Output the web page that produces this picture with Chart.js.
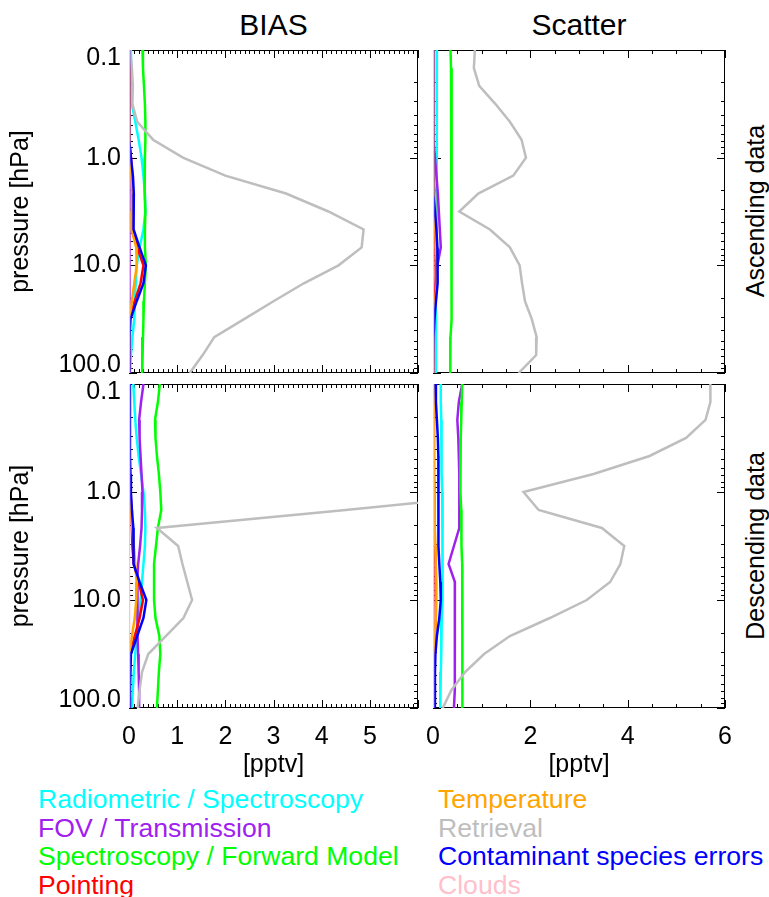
<!DOCTYPE html>
<html lang="en">
<head>
  <meta charset="UTF-8">
  <title>BIAS / Scatter profiles</title>
  <script src="https://cdn.jsdelivr.net/npm/chart.js@4.4.1/dist/chart.umd.min.js"></script>
  <style>
    body { margin: 0; background: #fff; }
    #page { position: relative; width: 769px; height: 897px; overflow: hidden;
            font-family: 'Liberation Sans', Arial, sans-serif; color: #000; }
    .box { position: absolute; }
    .head { position: absolute; top: 6px; font-size: 30px; line-height: 38px; text-align: center; }
    .side { position: absolute; font-size: 25px; white-space: nowrap;
            transform: translate(-50%, -50%) rotate(-90deg); }
    .legend { position: absolute; top: 785px; font-size: 26.6px; line-height: 28.5px; white-space: nowrap; }
  </style>
</head>
<body>
<div id="page">
  <div class="head" style="left:129px; width:289px;">BIAS</div>
  <div class="head" style="left:433px; width:292px;">Scatter</div>
  <div class="side" style="left:755px; top:211px;">Ascending data</div>
  <div class="side" style="left:755px; top:546px;">Descending data</div>

  <div class="box" style="left:0; top:0;"><canvas id="ascBias" width="425" height="380"></canvas></div>
  <div class="box" style="left:425px; top:0;"><canvas id="ascScatter" width="310" height="380"></canvas></div>
  <div class="box" style="left:0; top:380px;"><canvas id="descBias" width="425" height="400"></canvas></div>
  <div class="box" style="left:425px; top:380px;"><canvas id="descScatter" width="310" height="400"></canvas></div>

  <div class="legend" id="legendLeft" style="left:38px;"></div>
  <div class="legend" id="legendRight" style="left:438px;"></div>
</div>

<script>
// pressure levels [hPa], 6 per decade
const PRESSURE = [0.1, 0.147, 0.215, 0.316, 0.464, 0.681, 1.0, 1.468, 2.154, 3.162, 4.642, 6.813,
                  10.0, 14.68, 21.54, 31.62, 46.42, 68.13, 100.0];
const Y_TICKS = [0.1, 1, 10, 100];
const X_TICKS_BIAS = [0, 1, 2, 3, 4, 5];
const X_TICKS_SCATTER = [0, 2, 4, 6];

const SERIES_NAMES = ['Radiometric / Spectroscopy', 'FOV / Transmission', 'Spectroscopy / Forward Model',
                      'Pointing', 'Temperature', 'Retrieval', 'Contaminant species errors', 'Clouds'];
const SERIES_COLORS = ['#00ffff', '#a020f0', '#00ff00', '#ff0000', '#ffa500', '#bebebe', '#0000ff', '#ffc0cb'];

// Ascending, BIAS
const ascBiasRadio    = [0.04,0.04,0.05,0.06,0.13,0.20,0.26,0.30,0.33,0.34,0.30,0.22,0.16,0.14,0.12,0.11,0.07,0.04,0.02];
const ascBiasFov      = [0.01,0.01,0.01,0.01,0.01,0.01,0.01,0.01,0.01,0.01,0.01,0.02,0.02,0.02,0.01,0.01,0.01,0.01,0.01];
const ascBiasSpectro  = [0.28,0.29,0.31,0.33,0.34,0.34,0.33,0.32,0.33,0.34,0.33,0.33,0.35,0.33,0.31,0.30,0.29,0.27,0.28];
const ascBiasPointing = [0.00,0.00,0.00,0.00,0.01,0.02,0.04,0.07,0.08,0.08,0.08,0.17,0.30,0.24,0.12,0.02,0.01,0.00,0.00];
const ascBiasTemp     = [0.00,0.00,0.00,0.00,0.00,0.01,0.02,0.05,0.07,0.06,0.05,0.15,0.16,0.11,0.06,0.01,0.00,0.00,0.00];
const ascBiasRetr     = [0.03,0.06,0.08,0.07,0.17,0.50,1.12,2.00,3.26,4.14,4.87,4.83,4.35,3.63,3.00,2.39,1.77,1.53,1.26];
const ascBiasContam   = [0.00,0.00,0.00,0.00,0.00,0.01,0.04,0.08,0.10,0.10,0.09,0.22,0.35,0.30,0.16,0.03,0.01,0.01,0.01];
const ascBiasClouds   = [0.00,0.00,0.00,0.00,0.00,0.00,0.00,0.00,0.00,0.00,0.00,0.00,0.00,0.00,0.00,0.00,0.00,0.00,0.00];

// Ascending, Scatter
const ascScatRadio    = [0.08,0.08,0.08,0.08,0.08,0.08,0.08,0.08,0.07,0.07,0.07,0.07,0.07,0.07,0.06,0.06,0.06,0.06,0.06];
const ascScatFov      = [0.00,0.00,0.00,0.00,0.01,0.02,0.04,0.07,0.10,0.12,0.14,0.16,0.09,0.05,0.03,0.02,0.01,0.01,0.01];
const ascScatSpectro  = [0.36,0.37,0.38,0.38,0.39,0.39,0.38,0.38,0.39,0.39,0.39,0.38,0.38,0.38,0.37,0.37,0.36,0.35,0.36];
const ascScatPointing = [0.00,0.00,0.00,0.00,0.00,0.00,0.01,0.02,0.03,0.04,0.04,0.05,0.06,0.05,0.03,0.01,0.00,0.00,0.00];
const ascScatTemp     = [0.00,0.00,0.00,0.00,0.00,0.00,0.01,0.02,0.03,0.04,0.05,0.06,0.08,0.08,0.05,0.02,0.01,0.00,0.00];
const ascScatRetr     = [0.86,0.84,0.95,1.28,1.58,1.82,1.91,1.65,0.93,0.54,1.17,1.58,1.78,1.83,1.89,2.03,2.13,2.12,1.76];
const ascScatContam   = [0.00,0.00,0.00,0.00,0.00,0.00,0.00,0.01,0.02,0.04,0.07,0.09,0.10,0.09,0.06,0.03,0.01,0.00,0.00];
const ascScatClouds   = [0.00,0.00,0.00,0.00,0.00,0.00,0.00,0.00,0.00,0.00,0.00,0.00,0.00,0.00,0.00,0.00,0.00,0.00,0.00];

// Descending, BIAS
const descBiasRadio    = [0.09,0.11,0.13,0.16,0.20,0.25,0.30,0.33,0.34,0.33,0.30,0.27,0.24,0.20,0.16,0.13,0.10,0.08,0.06];
const descBiasFov      = [0.30,0.25,0.21,0.22,0.24,0.26,0.28,0.27,0.26,0.23,0.19,0.17,0.17,0.18,0.18,0.19,0.20,0.21,0.21];
const descBiasSpectro  = [0.64,0.60,0.54,0.55,0.58,0.62,0.65,0.67,0.60,0.56,0.52,0.52,0.52,0.55,0.63,0.65,0.62,0.60,0.58];
const descBiasPointing = [0.01,0.01,0.01,0.01,0.01,0.02,0.03,0.05,0.06,0.07,0.10,0.20,0.29,0.22,0.12,0.02,0.01,0.01,0.01];
const descBiasTemp     = [0.01,0.01,0.01,0.01,0.01,0.01,0.03,0.05,0.07,0.10,0.13,0.16,0.15,0.12,0.06,0.01,0.00,0.00,0.00];
const descBiasRetr     = [9.6,10.4,10.9,11.0,10.5,9.8,8.2,4.5,0.58,1.02,1.11,1.21,1.31,1.13,0.77,0.40,0.27,0.22,0.18];
const descBiasContam   = [0.02,0.02,0.02,0.02,0.02,0.03,0.04,0.06,0.09,0.10,0.09,0.22,0.36,0.30,0.17,0.04,0.03,0.02,0.02];
const descBiasClouds   = [0.00,0.00,0.00,0.00,0.00,0.00,0.00,0.00,0.00,0.00,0.00,0.00,0.00,0.00,0.00,0.00,0.00,0.00,0.00];

// Descending, Scatter
const descScatRadio    = [0.16,0.16,0.17,0.17,0.18,0.18,0.19,0.19,0.20,0.20,0.20,0.20,0.19,0.18,0.17,0.17,0.16,0.15,0.15];
const descScatFov      = [0.60,0.53,0.50,0.52,0.53,0.54,0.54,0.54,0.54,0.43,0.32,0.45,0.45,0.45,0.45,0.45,0.45,0.44,0.43];
const descScatSpectro  = [0.60,0.59,0.58,0.57,0.56,0.56,0.57,0.58,0.58,0.59,0.60,0.60,0.61,0.61,0.61,0.60,0.60,0.60,0.60];
const descScatPointing = [0.02,0.02,0.02,0.02,0.02,0.02,0.03,0.03,0.03,0.04,0.05,0.06,0.06,0.05,0.04,0.03,0.02,0.02,0.02];
const descScatTemp     = [0.02,0.02,0.02,0.02,0.02,0.02,0.03,0.03,0.04,0.05,0.06,0.07,0.07,0.06,0.04,0.03,0.02,0.02,0.02];
const descScatRetr     = [5.70,5.70,5.60,5.20,4.45,3.30,1.86,2.17,3.47,3.93,3.85,3.64,3.16,2.40,1.58,1.05,0.66,0.38,0.20];
const descScatContam   = [0.05,0.06,0.08,0.10,0.11,0.11,0.11,0.11,0.11,0.12,0.13,0.15,0.16,0.13,0.08,0.05,0.04,0.04,0.04];
const descScatClouds   = [0.00,0.00,0.00,0.00,0.00,0.00,0.00,0.00,0.00,0.00,0.00,0.00,0.00,0.00,0.00,0.00,0.00,0.00,0.00];

Chart.defaults.font.family = "'Liberation Sans', Arial, sans-serif";
Chart.defaults.color = '#000';

// frame + inward IDL-style tick marks on all four sides
const frameTicks = {
  id: 'frameTicks',
  beforeDatasetsDraw(chart, args, opts) {
    const { ctx, chartArea: a, scales: { x, y } } = chart;
    ctx.save();
    ctx.strokeStyle = '#000';
    ctx.lineWidth = 1;
    ctx.strokeRect(a.left + 0.5, a.top + 0.5, a.width - 1, a.height - 1);
    ctx.beginPath();
    const n = Math.round((x.max - x.min) / opts.minor);
    for (let i = 0; i <= n; i++) {
      const v = x.min + i * opts.minor;
      const r = v / opts.major;
      const len = Math.abs(r - Math.round(r)) < 1e-6 ? 8 : 4;
      const px = Math.round(x.getPixelForValue(v)) + 0.5;
      ctx.moveTo(px, a.top); ctx.lineTo(px, a.top + len);
      ctx.moveTo(px, a.bottom); ctx.lineTo(px, a.bottom - len);
    }
    for (let d = -1; d <= 2; d++) {
      for (let m = 1; m <= 9; m++) {
        const v = m * Math.pow(10, d);
        if (v > y.max * 1.0001) break;
        const len = m === 1 ? 8 : 4;
        const py = Math.round(y.getPixelForValue(v)) + 0.5;
        ctx.moveTo(a.left, py); ctx.lineTo(a.left + len, py);
        ctx.moveTo(a.right, py); ctx.lineTo(a.right - len, py);
      }
    }
    ctx.stroke();
    ctx.restore();
  }
};

function makeDatasets(seriesList) {
  const sets = seriesList.map((vals, k) => ({
    label: SERIES_NAMES[k],
    data: vals.map((v, i) => ({ x: v, y: PRESSURE[i] })),
    borderColor: SERIES_COLORS[k],
    borderWidth: 2.5,
    pointRadius: 0,
    showLine: true,
    fill: false
  }));
  // first dataset is painted last in Chart.js: put clouds on top
  return sets.reverse();
}

function makeChart(id, seriesList, cfg) {
  new Chart(document.getElementById(id), {
    type: 'scatter',
    data: { datasets: makeDatasets(seriesList) },
    plugins: [frameTicks],
    options: {
      responsive: false,
      animation: false,
      events: [],
      layout: { padding: cfg.padding },
      plugins: {
        legend: { display: false },
        tooltip: { enabled: false },
        frameTicks: { major: cfg.major, minor: cfg.minor }
      },
      scales: {
        x: {
          type: 'linear', min: 0, max: 6,
          display: cfg.showX,
          grid: { display: false, drawTicks: false },
          border: { display: false },
          afterBuildTicks: s => { s.ticks = cfg.xTicks.map(v => ({ value: v })); },
          afterFit: s => {
            s.height = cfg.showX ? 72 : 0;
            s.paddingLeft = 0; s.paddingRight = 0;
          },
          ticks: { autoSkip: false, maxRotation: 0, padding: 14, font: { size: 25 } },
          title: { display: true, text: '[pptv]', font: { size: 25 }, padding: 0 }
        },
        y: {
          type: 'logarithmic', min: 0.1, max: 100, reverse: true,
          display: cfg.showY,
          grid: { display: false, drawTicks: false },
          border: { display: false },
          afterBuildTicks: s => { s.ticks = Y_TICKS.map(v => ({ value: v })); },
          afterFit: s => {
            s.width = cfg.showY ? 129 : 0;
            s.paddingTop = 0; s.paddingBottom = 0;
          },
          ticks: {
            autoSkip: false, padding: 8, font: { size: 25, lineHeight: '16px' },
            callback: v => v === 0.1 ? ['', '0.1'] : v === 100 ? ['100.0', ''] : v.toFixed(1)
          },
          title: { display: true, text: 'pressure [hPa]', font: { size: 25 }, padding: { top: 6 } }
        }
      }
    }
  });
}

makeChart('ascBias',
  [ascBiasRadio, ascBiasFov, ascBiasSpectro, ascBiasPointing, ascBiasTemp, ascBiasRetr, ascBiasContam, ascBiasClouds],
  { padding: { left: 0, top: 50, right: 7, bottom: 7 }, showX: false, showY: true, major: 1, minor: 0.1, xTicks: X_TICKS_BIAS });
makeChart('ascScatter',
  [ascScatRadio, ascScatFov, ascScatSpectro, ascScatPointing, ascScatTemp, ascScatRetr, ascScatContam, ascScatClouds],
  { padding: { left: 8, top: 50, right: 10, bottom: 7 }, showX: false, showY: false, major: 2, minor: 0.5, xTicks: X_TICKS_SCATTER });
makeChart('descBias',
  [descBiasRadio, descBiasFov, descBiasSpectro, descBiasPointing, descBiasTemp, descBiasRetr, descBiasContam, descBiasClouds],
  { padding: { left: 0, top: 4, right: 7, bottom: 0 }, showX: true, showY: true, major: 1, minor: 0.1, xTicks: X_TICKS_BIAS });
makeChart('descScatter',
  [descScatRadio, descScatFov, descScatSpectro, descScatPointing, descScatTemp, descScatRetr, descScatContam, descScatClouds],
  { padding: { left: 8, top: 4, right: 10, bottom: 0 }, showX: true, showY: false, major: 2, minor: 0.5, xTicks: X_TICKS_SCATTER });

// legend: two columns of coloured text
const LEGEND_LEFT = [0, 1, 2, 3];
const LEGEND_RIGHT = [4, 5, 6, 7];
function fillLegend(id, idx) {
  const el = document.getElementById(id);
  idx.forEach(k => {
    const row = document.createElement('div');
    row.textContent = SERIES_NAMES[k];
    row.style.color = SERIES_COLORS[k];
    el.appendChild(row);
  });
}
fillLegend('legendLeft', LEGEND_LEFT);
fillLegend('legendRight', LEGEND_RIGHT);
</script>
</body>
</html>
